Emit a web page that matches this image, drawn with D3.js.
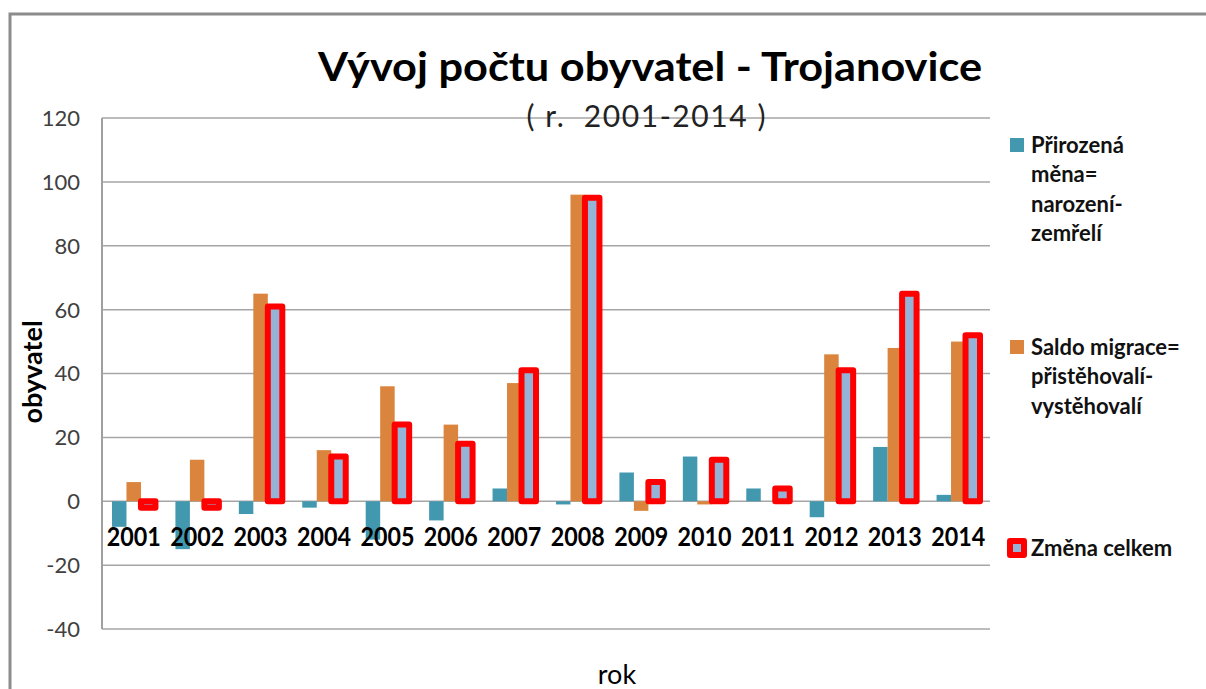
<!DOCTYPE html>
<html>
<head>
<meta charset="utf-8">
<script src="https://cdn.jsdelivr.net/npm/d3@7"></script>
<style>
  body { margin: 0; background: #fff; }
  svg { display: block; font-family: Lato, "Open Sans", sans-serif; }
</style>
</head>
<body>
<script>
// Data
var years = ["2001", "2002", "2003", "2004", "2005", "2006", "2007",
             "2008", "2009", "2010", "2011", "2012", "2013", "2014"];
var prirozena = [-8, -15, -4, -2, -12, -6, 4, -1, 9, 14, 4, -5, 17, 2];
var saldo = [6, 13, 65, 16, 36, 24, 37, 96, -3, -1, 0, 46, 48, 50];
var zmena = [-2, -2, 61, 14, 24, 18, 41, 95, 6, 13, 4, 41, 65, 52];
var yTicks = [-40, -20, 0, 20, 40, 60, 80, 100, 120];
var legendLines = [
  ["Přirozená", "měna=", "narození-", "zemřelí"],
  ["Saldo migrace=", "přistěhovalí-", "vystěhovalí"],
  ["Změna celkem"]
];

var width = 1206, height = 689;
var colors = ["#4198af", "#db843d", "#95b3d7"];

var svg = d3.select("body")
  .append("svg")
  .attr("width", width)
  .attr("height", height);

// Outer frame
svg.append("rect")
  .attr("x", 10)
  .attr("y", 14)
  .attr("width", 1210)
  .attr("height", 700)
  .attr("fill", "#fff")
  .attr("stroke", "#8c8c8c")
  .attr("stroke-width", 3);

// Scales
var x = d3.scaleBand()
  .domain(years)
  .range([102, 990])
  .paddingInner(0.315)
  .paddingOuter(0.1575);

var xs = d3.scaleBand()
  .domain([0, 1, 2])
  .range([0, x.bandwidth()]);

var y = d3.scaleLinear()
  .domain([-40, 120])
  .range([629, 118]);

// Gridlines
svg.append("g")
  .selectAll("line")
  .data(yTicks)
  .join("line")
  .attr("x1", 102)
  .attr("x2", 990)
  .attr("y1", d => y(d))
  .attr("y2", d => y(d))
  .attr("stroke", "#a6a6a6")
  .attr("stroke-width", 1.5);

// Y axis line
svg.append("line")
  .attr("x1", 102)
  .attr("x2", 102)
  .attr("y1", y(120))
  .attr("y2", y(-40))
  .attr("stroke", "#a0a0a0")
  .attr("stroke-width", 2);

// Y tick labels
svg.append("g")
  .selectAll("text")
  .data(yTicks)
  .join("text")
  .attr("x", 80)
  .attr("y", d => y(d))
  .attr("dy", "0.36em")
  .attr("text-anchor", "end")
  .attr("font-size", 22)
  .attr("fill", "#404040")
  .text(d => d);

// Bars
function barY(v) { return Math.min(y(v), y(0)); }
function barH(v) { return Math.abs(y(v) - y(0)); }

var groups = svg.append("g")
  .selectAll("g")
  .data(years)
  .join("g")
  .attr("transform", d => "translate(" + x(d) + ",0)");

groups.append("rect")
  .attr("x", xs(0))
  .attr("width", xs.bandwidth())
  .attr("y", (d, i) => barY(prirozena[i]))
  .attr("height", (d, i) => barH(prirozena[i]))
  .attr("fill", colors[0]);

groups.append("rect")
  .attr("x", xs(1))
  .attr("width", xs.bandwidth())
  .attr("y", (d, i) => barY(saldo[i]))
  .attr("height", (d, i) => barH(saldo[i]))
  .attr("fill", colors[1]);

groups.append("rect")
  .attr("x", xs(2))
  .attr("width", xs.bandwidth())
  .attr("y", (d, i) => barY(zmena[i]))
  .attr("height", (d, i) => barH(zmena[i]))
  .attr("fill", colors[2])
  .attr("stroke", "#ff0000")
  .attr("stroke-width", 6)
  .attr("stroke-linejoin", "round");

// X labels
svg.append("g")
  .selectAll("text")
  .data(years)
  .join("text")
  .attr("x", d => x(d) + x.bandwidth() / 2)
  .attr("y", y(0) + 45)
  .attr("text-anchor", "middle")
  .attr("font-size", 26)
  .attr("font-weight", "bold")
  .attr("fill", "#000")
  .attr("textLength", 54)
  .attr("lengthAdjust", "spacingAndGlyphs")
  .text(d => d);

// Titles
svg.append("text")
  .attr("x", 650)
  .attr("y", 81)
  .attr("text-anchor", "middle")
  .attr("font-size", 41)
  .attr("font-weight", "bold")
  .attr("textLength", 664)
  .attr("lengthAdjust", "spacingAndGlyphs")
  .text("Vývoj počtu obyvatel - Trojanovice");

svg.append("text")
  .attr("x", 646)
  .attr("y", 127)
  .attr("text-anchor", "middle")
  .attr("font-size", 30)
  .attr("fill", "#222")
  .attr("textLength", 239)
  .attr("lengthAdjust", "spacing")
  .style("white-space", "pre")
  .text("( r.  2001-2014 )");

svg.append("text")
  .attr("transform", "translate(42,372) rotate(-90)")
  .attr("text-anchor", "middle")
  .attr("font-size", 27)
  .attr("font-weight", "bold")
  .text("obyvatel");

svg.append("text")
  .attr("x", 617)
  .attr("y", 684)
  .attr("text-anchor", "middle")
  .attr("font-size", 27)
  .text("rok");

// Legend
var legendTop = [145, 347, 548];
var legend = svg.append("g")
  .selectAll("g")
  .data(legendLines)
  .join("g")
  .attr("transform", (d, i) => "translate(1010," + legendTop[i] + ")");

legend.append("rect")
  .attr("x", 0)
  .attr("y", -7)
  .attr("width", 14)
  .attr("height", 14)
  .attr("fill", (d, i) => colors[i])
  .attr("stroke", (d, i) => i === 2 ? "#ff0000" : "none")
  .attr("stroke-width", 6)
  .attr("stroke-linejoin", "round");

legend.selectAll("text")
  .data(d => d)
  .join("text")
  .attr("x", 21)
  .attr("y", (d, j) => j * 29.5)
  .attr("dy", "0.36em")
  .attr("font-size", 22)
  .attr("font-weight", "bold")
  .attr("fill", "#111")
  .text(d => d);
</script>
</body>
</html>
